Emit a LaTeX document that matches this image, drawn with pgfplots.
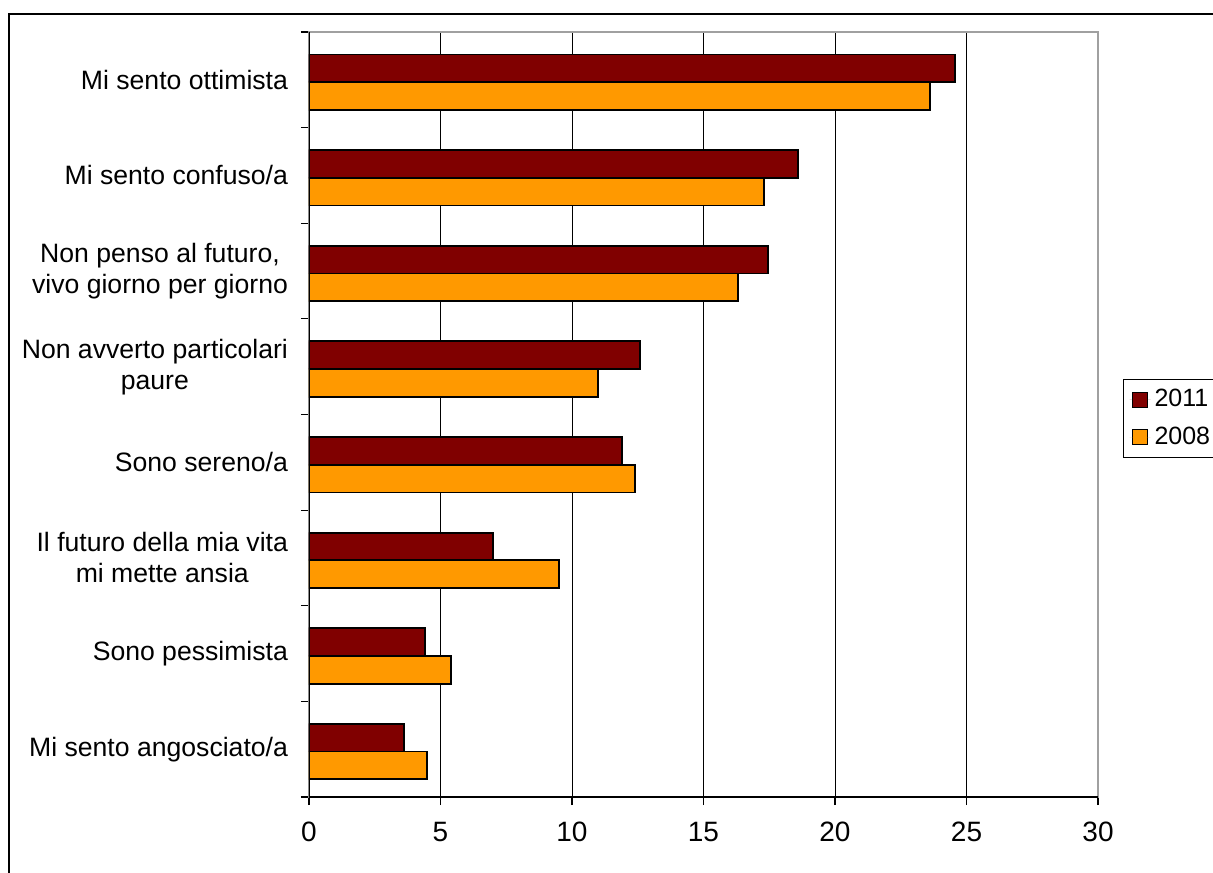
\documentclass[border=0pt]{standalone}
\usepackage{fontspec}
\setmainfont{Liberation Sans}
\usepackage{pgfplots}
\pgfplotsset{compat=1.18}
\definecolor{c2011}{HTML}{800000}
\definecolor{c2008}{HTML}{FF9900}
\definecolor{edgegray}{HTML}{A0A0A0}
\begin{document}
\begin{tikzpicture}
\begin{axis}[
  at={(0,0)}, anchor=south west,
  scale only axis, width=394.5pt, height=382.5pt,
  xbar, xmin=0, xmax=30, ymin=-0.5, ymax=7.5,
  xtick={0,5,...,30},
  xmajorgrids, grid style={black, line width=0.5pt},
  ytick={0,...,7},
  yticklabels={{Mi sento angosciato/a},{Sono pessimista},{Il futuro della mia vita\\mi mette ansia},{Sono sereno/a},{Non avverto particolari\\paure},{Non penso al futuro,\\vivo giorno per giorno},{Mi sento confuso/a},{Mi sento ottimista}},
  major y tick style={draw=none},
  minor ytick={-0.5,0.5,...,7.5},
  tick align=outside, xtick pos=bottom, ytick pos=left,
  major tick length=4pt, minor tick length=4pt,
  tick style={black, line width=0.6pt},
  axis line style={edgegray, line width=0.8pt},
  bar width=0.29,
  /pgf/number format/assume math mode=true,
  yticklabel style={font=\fontsize{13.3}{15.5}\selectfont, align=center, xshift=-3pt},
  xticklabel style={font=\fontsize{14}{16}\selectfont, yshift=-5pt},
  legend style={at={(1.0317,0.5465)}, anchor=north west, draw=black, line width=0.5pt,
    font=\fontsize{12.5}{15}\selectfont, inner xsep=3pt, inner ysep=3pt, row sep=4.5pt,
    nodes={inner sep=2pt}},
  legend cell align=left,
  legend image code/.code={\draw[#1, line width=0.6pt] (1.5pt,-3.75pt) rectangle (9pt,3.75pt); \path[draw=none] (0pt,0pt) -- (10.5pt,0pt);},
]
\addplot[fill=c2011, draw=black, line width=0.9pt, bar shift=0.12] coordinates {
 (3.6,0) (4.4,1) (7.0,2) (11.9,3) (12.6,4) (17.45,5) (18.6,6) (24.55,7)};
\addlegendentry{2011}
\addplot[fill=c2008, draw=black, line width=0.9pt, bar shift=-0.17] coordinates {
 (4.5,0) (5.4,1) (9.5,2) (12.4,3) (11.0,4) (16.3,5) (17.3,6) (23.6,7)};
\addlegendentry{2008}
\draw[edgegray, line width=0.8pt] (rel axis cs:0,1) -- (rel axis cs:1,1) -- (rel axis cs:1,0);
\draw[black, line width=0.8pt] (rel axis cs:0,1) -- (rel axis cs:0,0) -- (rel axis cs:1,0);
\end{axis}
\draw[black, line width=1.3pt] (-150pt,-60pt) -- (-150pt,391.5pt) -- (470pt,391.5pt);
\pgfresetboundingbox
\path[use as bounding box] (-154.5pt,-37.5pt) rectangle (452pt,398.5pt);
\end{tikzpicture}
\end{document}
